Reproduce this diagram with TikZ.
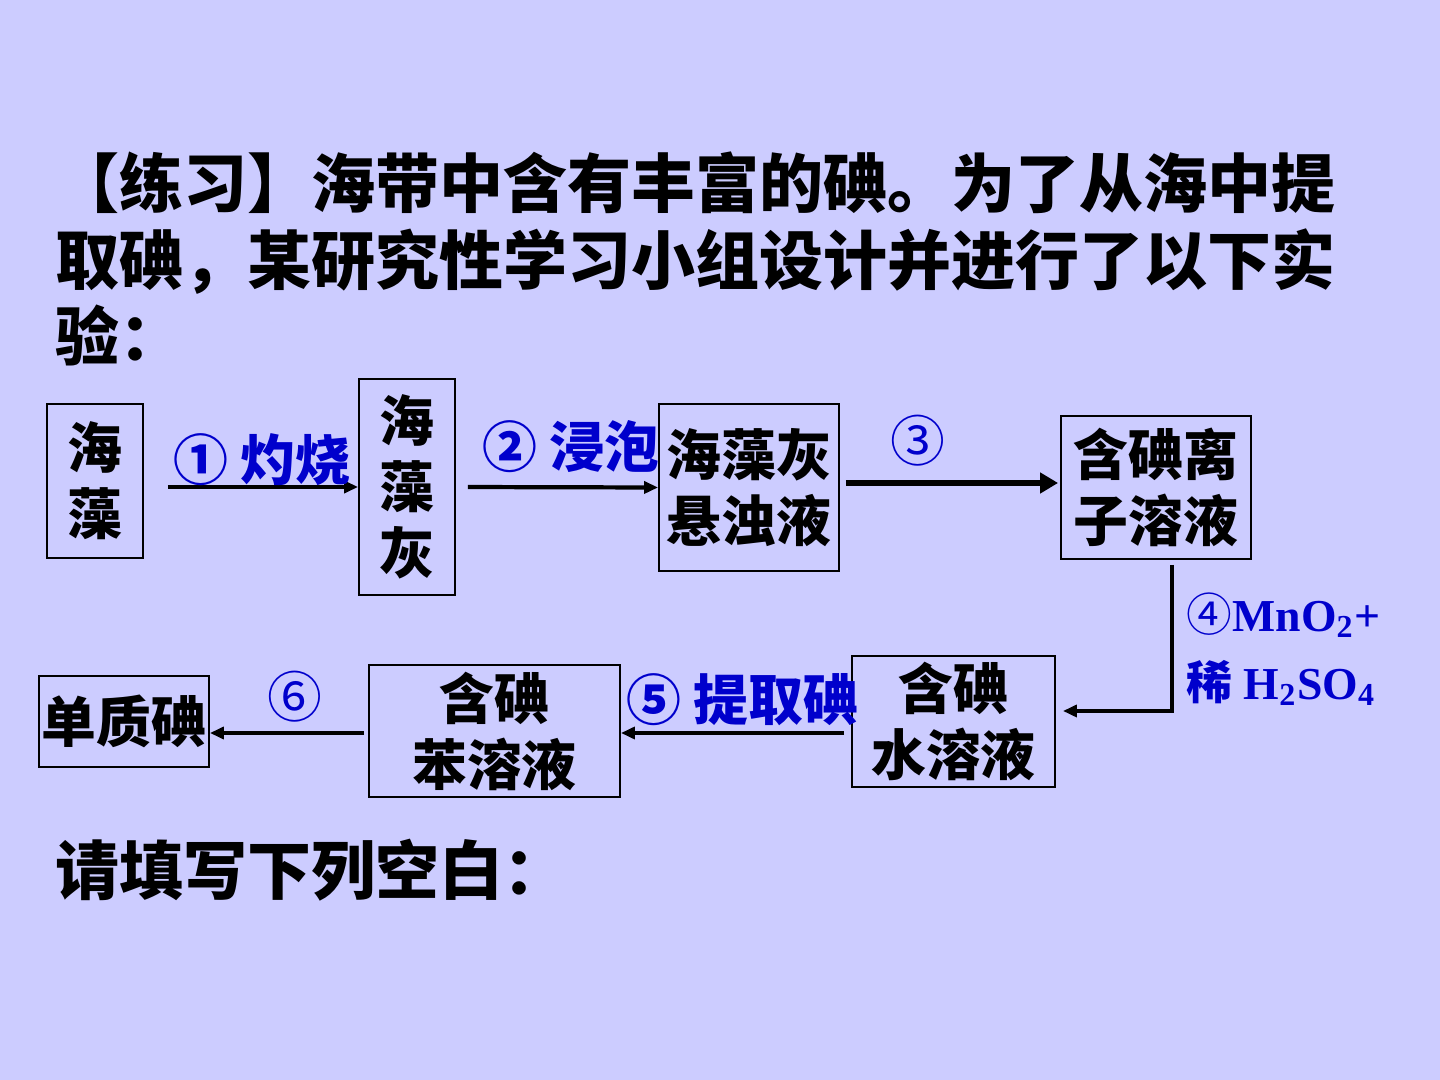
\documentclass[tikz,border=0pt]{standalone}
\usepackage{fontspec}
\setmainfont{Liberation Serif}
\newfontfamily\cjk{Noto Sans CJK SC}
\usetikzlibrary{arrows.meta,calc}
\definecolor{bgviolet}{RGB}{204,204,255}
\definecolor{labelblue}{RGB}{0,0,204}

\begin{document}
\begin{tikzpicture}[x=0.01cm,y=-0.01cm,
	box/.style={draw=black,line width=0.5pt,inner sep=0pt,align=center,font=\cjk\bfseries\fontsize{15.6}{18.8}\selectfont},
	lab/.style={text=labelblue,inner sep=0pt,font=\cjk\bfseries\fontsize{15.6}{18.8}\selectfont},
	formula/.style={text=labelblue,inner sep=0pt,anchor=west,font=\bfseries\fontsize{13}{15}\selectfont},
	title/.style={inner sep=0pt,anchor=west,font=\cjk\bfseries\fontsize{18.2}{22}\selectfont},
	flow/.style={line width=1.2pt,-{Triangle[length=0.14cm,width=0.12cm]}},
	bigflow/.style={line width=1.7pt,-{Triangle[length=0.18cm,width=0.2cm]}}]
	\fill[bgviolet] (0,0) rectangle (1440,1080);
	\useasboundingbox (0,0) rectangle (1440,1080);

	\node[title] (line1) at (55,183) {【练习】海带中含有丰富的碘。为了从海中提};
	\node[title] (line2) at (55,262) {取碘，某研究性学习小组设计并进行了以下实};
	\node[title] (line3) at (55,335) {验：};
	\node[title] (prompt) at (55,870) {请填写下列空白：};

	\node[box,minimum width=0.96cm,minimum height=1.54cm] (haizao) at (95,481) {海\\藻};
	\node[box,minimum width=0.96cm,minimum height=2.16cm] (hui) at (407,487) {海\\藻\\灰};
	\node[box,minimum width=1.80cm,minimum height=1.67cm] (xuanzhuo) at (749,487.5) {海藻灰\\悬浊液};
	\node[box,minimum width=1.90cm,minimum height=1.43cm] (lizi) at (1156,487.5) {含碘离\\子溶液};
	\node[box,minimum width=2.03cm,minimum height=1.31cm] (shui) at (953.5,721.5) {含碘\\水溶液};
	\node[box,minimum width=2.51cm,minimum height=1.32cm] (ben) at (494.5,731) {含碘\\苯溶液};
	\node[box,minimum width=1.70cm,minimum height=0.91cm] (danzhi) at (124,721.5) {单质碘};

	\draw[flow,shorten <=0.24cm] (haizao.east |- hui.west) -- (hui.west);
	\draw[flow,shorten <=0.12cm] (hui.east) -- (xuanzhuo.west);
	\draw[bigflow,shorten <=0.06cm,shorten >=0.02cm] ([yshift=0.045cm]xuanzhuo.east) -- ([yshift=0.045cm]lizi.west);
	\draw[flow,line width=1.4pt,shorten <=0.05cm,shorten >=0.07cm] ([xshift=0.16cm]lizi.south) |- ([yshift=0.105cm]shui.east);
	\draw[flow,shorten <=0.07cm] ([yshift=-0.02cm]shui.west |- ben.east) -- ([yshift=-0.02cm]ben.east);
	\draw[flow,shorten <=0.04cm] ([yshift=-0.02cm]ben.west) -- ([yshift=-0.02cm]danzhi.east |- ben.west);

	\node[lab] (burn) at (262,460) {① 灼烧};
	\node[lab] (soak) at (571,447) {② 浸泡};
	\node[lab,font=\cjk\fontsize{15.6}{18.8}\selectfont] (step3) at (918,441) {③};
	\node[lab] (extract) at (742,700) {⑤ 提取碘};
	\node[lab,font=\cjk\fontsize{15.6}{18.8}\selectfont] (step6) at (295,697) {⑥};
	\node[formula] (oxid1) at (1186,615) {{\cjk\mdseries ④}MnO\textsubscript{2}+};
	\node[formula] (oxid2) at (1186,683) {{\cjk 稀} H\textsubscript{2}SO\textsubscript{4}};
\end{tikzpicture}
\end{document}
